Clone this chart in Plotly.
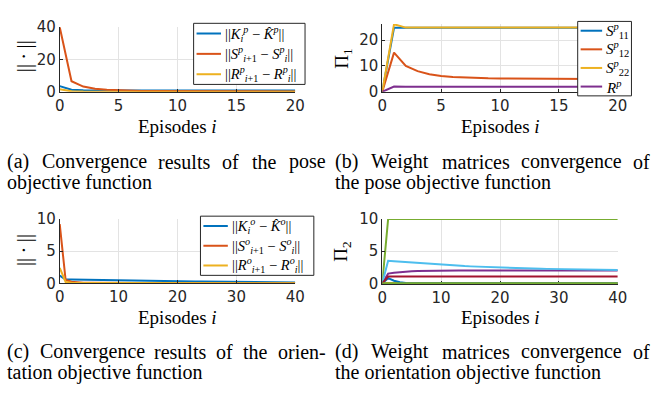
import plotly.graph_objects as go

# ---------------- data ----------------
ep20 = list(range(21))
ep40 = list(range(41))

# (a) pose objective convergence
pose_K = [3.5, 1.2, 0.9, 0.85, 0.8, 0.8, 0.8, 0.8, 0.8, 0.8, 0.8,
          0.8, 0.8, 0.8, 0.8, 0.8, 0.8, 0.8, 0.8, 0.8, 0.8]
pose_S = [40.0, 6.5, 3.2, 1.9, 1.3, 0.9, 0.7, 0.55, 0.45, 0.4, 0.35,
          0.3, 0.3, 0.25, 0.25, 0.2, 0.2, 0.2, 0.2, 0.2, 0.2]
pose_R = [1.5, 0.3, 0.12, 0.06, 0.04, 0.03, 0.02, 0.02, 0.02, 0.02, 0.02,
          0.02, 0.02, 0.02, 0.02, 0.02, 0.02, 0.02, 0.02, 0.02, 0.02]

# (b) pose weight matrices
pi1_S11 = [0.0, 24.8, 24.8, 24.8, 24.8, 24.8, 24.8, 24.8, 24.8, 24.8, 24.8,
           24.8, 24.8, 24.8, 24.8, 24.8, 24.8, 24.8, 24.8, 24.8, 24.8]
pi1_S12 = [0.0, 15.2, 10.0, 8.0, 6.8, 6.1, 5.7, 5.45, 5.3, 5.2, 5.15,
           5.1, 5.07, 5.05, 5.03, 5.02, 5.01, 5.0, 5.0, 5.0, 5.0]
pi1_S22 = [0.0, 26.2, 24.9, 24.9, 24.9, 24.9, 24.9, 24.9, 24.9, 24.9, 24.9,
           24.9, 24.9, 24.9, 24.9, 24.9, 24.9, 24.9, 24.9, 24.9, 24.9]
pi1_R = [0.0, 2.05, 1.95, 1.95, 1.95, 1.95, 1.95, 1.95, 1.95, 1.95, 1.95,
         1.95, 1.95, 1.95, 1.95, 1.95, 1.95, 1.95, 1.95, 1.95, 1.95]

# (c) orientation objective convergence
ori_K = [1.2, 0.6, 0.58, 0.56, 0.54, 0.52, 0.5, 0.48, 0.46, 0.44, 0.42,
         0.41, 0.4, 0.38, 0.37, 0.36, 0.35, 0.34, 0.33, 0.32, 0.3,
         0.29, 0.28, 0.27, 0.26, 0.25, 0.24, 0.23, 0.22, 0.21, 0.2,
         0.19, 0.18, 0.18, 0.17, 0.16, 0.15, 0.15, 0.14, 0.13, 0.13]
ori_S = [9.2, 0.5, 0.25, 0.15, 0.1, 0.08, 0.06, 0.05, 0.05, 0.04, 0.04,
         0.04, 0.03, 0.03, 0.03, 0.03, 0.03, 0.03, 0.03, 0.03, 0.02,
         0.02, 0.02, 0.02, 0.02, 0.02, 0.02, 0.02, 0.02, 0.02, 0.02,
         0.02, 0.02, 0.02, 0.02, 0.02, 0.02, 0.02, 0.02, 0.02, 0.02]
ori_R = [2.4, 0.2, 0.1, 0.08, 0.06, 0.05, 0.05, 0.04, 0.04, 0.04, 0.03,
         0.03, 0.03, 0.03, 0.03, 0.03, 0.03, 0.03, 0.03, 0.03, 0.02,
         0.02, 0.02, 0.02, 0.02, 0.02, 0.02, 0.02, 0.02, 0.02, 0.02,
         0.02, 0.02, 0.02, 0.02, 0.02, 0.02, 0.02, 0.02, 0.02, 0.02]

# (d) orientation weight matrices
pi2_a = [0.0, 0.8, 0.4, 0.15, 0.05, 0.02, 0.0, 0.0, 0.0, 0.0, 0.0,
         0.0, 0.0, 0.0, 0.0, 0.0, 0.0, 0.0, 0.0, 0.0, 0.0,
         0.0, 0.0, 0.0, 0.0, 0.0, 0.0, 0.0, 0.0, 0.0, 0.0,
         0.0, 0.0, 0.0, 0.0, 0.0, 0.0, 0.0, 0.0, 0.0, 0.0]
pi2_b = [0.0] * 41
pi2_c = [0.0] * 41
pi2_d = [0.0, 1.5, 1.65, 1.75, 1.82, 1.87, 1.9, 1.93, 1.95, 1.97, 1.98,
         1.99, 2.0, 2.0, 2.0, 2.0, 2.0, 2.0, 2.0, 2.0, 2.0,
         2.0, 2.0, 2.0, 2.0, 2.0, 2.0, 2.0, 2.0, 2.0, 2.0,
         2.0, 2.0, 2.0, 2.0, 2.0, 2.0, 2.0, 2.0, 2.0, 2.0]
pi2_e = [0.0] + [10.0] * 40
pi2_f = [0.0, 3.5, 3.42, 3.35, 3.28, 3.2, 3.13, 3.07, 3.0, 2.94, 2.88,
         2.82, 2.77, 2.72, 2.67, 2.63, 2.59, 2.55, 2.51, 2.48, 2.45,
         2.42, 2.39, 2.36, 2.33, 2.31, 2.28, 2.26, 2.24, 2.22, 2.2,
         2.18, 2.16, 2.15, 2.13, 2.12, 2.1, 2.09, 2.08, 2.07, 2.06]
pi2_g = [0.0] + [1.05] * 40
pi2_h = [0.0] * 41

# legend labels
lab_a = ["||<i>K</i><sub><i>i</i></sub><sup><i>p</i></sup> − <i>K̂</i><sup><i>p</i></sup>||",
         "||<i>S</i><sup><i>p</i></sup><sub><i>i</i>+1</sub> − <i>S</i><sup><i>p</i></sup><sub><i>i</i></sub>||",
         "||<i>R</i><sup><i>p</i></sup><sub><i>i</i>+1</sub> − <i>R</i><sup><i>p</i></sup><sub><i>i</i></sub>||"]
lab_b = ["<i>S</i><sup><i>p</i></sup><sub>11</sub>", "<i>S</i><sup><i>p</i></sup><sub>12</sub>",
         "<i>S</i><sup><i>p</i></sup><sub>22</sub>", "<i>R</i><sup><i>p</i></sup>"]
lab_c = ["||<i>K</i><sub><i>i</i></sub><sup><i>o</i></sup> − <i>K̂</i><sup><i>o</i></sup>||",
         "||<i>S</i><sup><i>o</i></sup><sub><i>i</i>+1</sub> − <i>S</i><sup><i>o</i></sup><sub><i>i</i></sub>||",
         "||<i>R</i><sup><i>o</i></sup><sub><i>i</i>+1</sub> − <i>R</i><sup><i>o</i></sup><sub><i>i</i></sub>||"]

C = ["#0072BD", "#D95319", "#EDB120", "#7E2F8E", "#77AC30", "#4DBEEE", "#A2142F"]

W, H = 661, 397
def px(x): return x / W
def py(y): return 1 - y / H

fig = go.Figure()
LW = 2

def add(x, y, color, name, xa, ya):
    fig.add_trace(go.Scatter(
        x=x, y=y, mode="lines", line=dict(color=color, width=LW),
        name=name, xaxis=xa, yaxis=ya, showlegend=False))

add(ep20, pose_K, C[0], lab_a[0], "x", "y")
add(ep20, pose_S, C[1], lab_a[1], "x", "y")
add(ep20, pose_R, C[2], lab_a[2], "x", "y")

add(ep20, pi1_S11, C[0], lab_b[0], "x2", "y2")
add(ep20, pi1_S12, C[1], lab_b[1], "x2", "y2")
add(ep20, pi1_S22, C[2], lab_b[2], "x2", "y2")
add(ep20, pi1_R, C[3], lab_b[3], "x2", "y2")

add(ep40, ori_K, C[0], lab_c[0], "x3", "y3")
add(ep40, ori_S, C[1], lab_c[1], "x3", "y3")
add(ep40, ori_R, C[2], lab_c[2], "x3", "y3")

for series, col in [(pi2_b, C[1]), (pi2_c, C[2]), (pi2_a, C[0]), (pi2_d, C[3]),
                    (pi2_e, C[4]), (pi2_f, C[5]), (pi2_g, C[6]), (pi2_h, C[4])]:
    add(ep40, series, col, "", "x4", "y4")

tickfont = dict(family="DejaVu Sans", size=15, color="#262626")
def axis(domain, rng, tickvals, anchor, layer="above traces"):
    return dict(domain=domain, range=rng, tickvals=tickvals, anchor=anchor,
                showgrid=True, gridcolor="#e3e3e3", gridwidth=1,
                showline=True, linecolor="#262626", linewidth=1,
                ticks="inside", ticklen=3, tickcolor="#262626",
                tickfont=tickfont, zeroline=False, fixedrange=True, layer=layer)

xl = [px(56), px(297)]
xr = [px(386), px(627)]
ya_dom = [py(86.7), py(19)]
yb_dom = [py(86.7), py(15.7)]
yc_dom = [py(287.3), py(220)]
yd_dom = [py(288.1), py(220)]

fig.update_layout(
    width=W, height=H, margin=dict(l=0, r=0, t=0, b=0),
    paper_bgcolor="white", plot_bgcolor="white", showlegend=False,
    xaxis=axis(xl, [0, 20], [0, 5, 10, 15, 20], "y"),
    yaxis=axis(ya_dom, [0, 40], [0, 20, 40], "x"),
    xaxis2=axis(xr, [0, 20], [0, 5, 10, 15, 20], "y2"),
    yaxis2=axis(yb_dom, [0, 26.3], [0, 10, 20], "x2"),
    xaxis3=axis(xl, [0, 40], [0, 10, 20, 30, 40], "y3"),
    yaxis3=axis(yc_dom, [0, 10], [0, 5, 10], "x3"),
    xaxis4=axis(xr, [0, 40], [0, 10, 20, 30, 40], "y4", layer="below traces"),
    yaxis4=axis(yd_dom, [-0.12, 10], [0, 5, 10], "x4"),
)

serif = "Liberation Serif"
ann = []
shapes = []
def text(x, y, s, size=19, angle=0, xanchor="center", yanchor="middle", color="black"):
    ann.append(dict(x=px(x), y=py(y), xref="paper", yref="paper", text=s,
                    showarrow=False, font=dict(family=serif, size=size, color=color),
                    textangle=angle, xanchor=xanchor, yanchor=yanchor))

# boxed legends: frame, colour samples and labels
def legend_box(x0, y0, x1, y1, labels, colors, sample, size):
    shapes.append(dict(type="rect", xref="paper", yref="paper",
                       x0=px(x0), x1=px(x1), y0=py(y1), y1=py(y0),
                       line=dict(color="#262626", width=1), fillcolor="white"))
    step = (y1 - y0) / len(labels)
    for k, (lab, col) in enumerate(zip(labels, colors)):
        yc = y0 + step * (k + 0.5)
        shapes.append(dict(type="line", xref="paper", yref="paper",
                           x0=px(x0 + 3), x1=px(x0 + 3 + sample), y0=py(yc), y1=py(yc),
                           line=dict(color=col, width=LW)))
        text(x0 + 5 + sample, yc, lab, size=size, xanchor="left")

legend_box(193, 15, 307, 79, lab_a, C[:3], 25, 14.5)
legend_box(586, 13, 641, 91, lab_b, C[:4], 22, 15)
legend_box(200, 217, 316, 279, lab_c, C[:3], 25, 14.5)

# axis titles
for cx, cy in [(176.5, 123), (506.5, 123), (176.5, 323), (506.5, 323)]:
    text(cx, cy, "Episodes <i>i</i>")
text(19, 50, "||\u2009·\u2009||", size=21, angle=-90)
text(19, 253, "||\u2009·\u2009||", size=21, angle=-90)
text(345, 52, "Π<sub>1</sub>", angle=-90)
text(345, 254, "Π<sub>2</sub>", angle=-90)

# captions, first lines justified to the column width (Times metrics)
TW = {"a": 444, "b": 500, "c": 444, "d": 500, "e": 444, "f": 333, "g": 500, "h": 500,
      "i": 278, "j": 278, "k": 500, "l": 278, "m": 778, "n": 500, "o": 500, "p": 500,
      "q": 500, "r": 333, "s": 389, "t": 278, "u": 500, "v": 500, "w": 722, "x": 500,
      "y": 500, "z": 444, "(": 333, ")": 333, "C": 667, "W": 944, "-": 333}
CAP = 20
def wwidth(w): return sum(TW.get(ch, 500) for ch in w) * CAP / 1000.0

def justified(line, x0, x1, y):
    words = line.split(" ")
    widths = [wwidth(w) for w in words]
    gap = (x1 - x0 - sum(widths)) / (len(words) - 1)
    x = x0
    for w, wd in zip(words, widths):
        text(x, y, w, size=CAP, xanchor="left")
        x += wd + gap

captions = [
    ("(a) Convergence results of the pose", "objective function", 0, 325, 160),
    ("(b) Weight matrices convergence of", "the pose objective function", 336, 657, 160),
    ("(c) Convergence results of the orien-", "tation objective function", 0, 325, 359),
    ("(d) Weight matrices convergence of", "the orientation objective function", 336, 657, 359),
]
for l1, l2, x0, x1, y in captions:
    justified(l1, x0, x1, y)
    text(x0, y + 22, l2, size=CAP, xanchor="left")

fig.update_layout(annotations=ann, shapes=shapes)
fig.write_html("out.html")
